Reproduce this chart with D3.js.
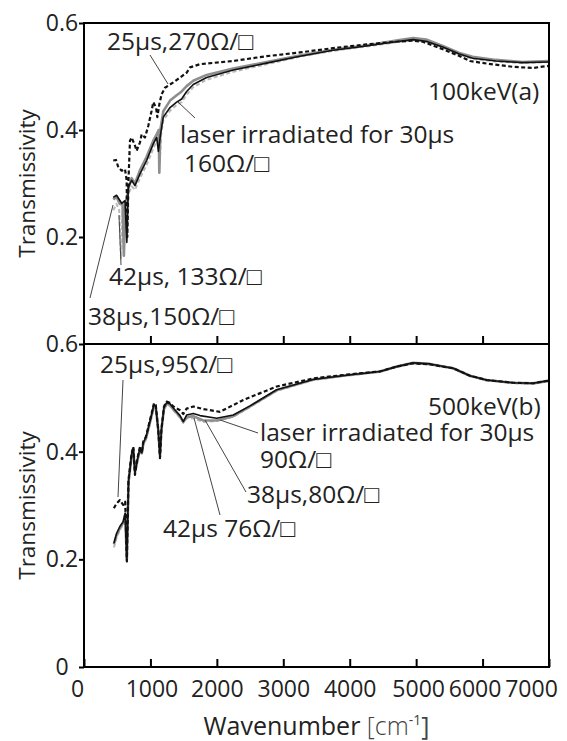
<!DOCTYPE html>
<html>
<head>
<meta charset="utf-8">
<script src="https://cdn.jsdelivr.net/npm/d3@7"></script>
<style>
  body { margin: 0; background: #fff; }
  text { font-family: "Open Sans", sans-serif; fill: #222; }
</style>
</head>
<body>
<svg id="chart" width="567" height="741"></svg>
<script>
// wavenumber [cm-1], transmissivity pairs
var top25 = [[440,0.343],[482,0.344],[517,0.330],[567,0.324],[617,0.327],[642,0.306],[652,0.20],[668,0.30],[692,0.38],[717,0.386],[767,0.371],[792,0.361],[843,0.377],[868,0.392],[918,0.386],[968,0.408],[1018,0.436],[1043,0.452],[1084,0.442],[1104,0.424],[1134,0.448],[1169,0.467],[1219,0.479],[1269,0.483],[1344,0.489],[1445,0.498],[1545,0.507],[1595,0.517],[1746,0.523],[2243,0.529],[2750,0.538],[3251,0.545],[3750,0.553],[4250,0.560],[4700,0.565],[4955,0.567],[5100,0.565],[5360,0.553],[5620,0.540],[5810,0.529],[6070,0.524],[6460,0.518],[6760,0.516],[7000,0.520]];
var top30 = [[440,0.274],[490,0.278],[567,0.263],[617,0.268],[645,0.19],[667,0.293],[717,0.306],[767,0.296],[843,0.318],[943,0.343],[1043,0.374],[1094,0.386],[1120,0.36],[1150,0.39],[1194,0.424],[1295,0.442],[1395,0.452],[1470,0.458],[1545,0.472],[1645,0.485],[1846,0.498],[2247,0.512],[2750,0.525],[3250,0.538],[3750,0.549],[4250,0.557],[4700,0.565],[4955,0.569],[5150,0.566],[5400,0.555],[5650,0.542],[5850,0.534],[6200,0.529],[6600,0.526],[7000,0.527]];
var top38 = [[440,0.270],[490,0.275],[540,0.262],[580,0.262],[600,0.165],[625,0.26],[667,0.29],[717,0.31],[767,0.30],[843,0.325],[943,0.35],[1043,0.38],[1094,0.392],[1125,0.40],[1134,0.32],[1150,0.40],[1194,0.435],[1295,0.455],[1395,0.465],[1470,0.472],[1545,0.482],[1645,0.492],[1846,0.503],[2247,0.515],[2750,0.527],[3250,0.539],[3750,0.550],[4250,0.558],[4700,0.567],[4955,0.572],[5150,0.569],[5400,0.557],[5650,0.544],[5850,0.537],[6200,0.531],[6600,0.527],[7000,0.529]];
var top42 = [[440,0.250],[490,0.262],[530,0.250],[557,0.16],[580,0.25],[617,0.255],[645,0.20],[667,0.28],[717,0.295],[767,0.288],[843,0.31],[943,0.335],[1043,0.365],[1094,0.38],[1125,0.39],[1140,0.34],[1160,0.39],[1194,0.418],[1295,0.436],[1395,0.447],[1470,0.452],[1545,0.466],[1645,0.48],[1846,0.494],[2247,0.509],[2750,0.523],[3250,0.537],[3750,0.548],[4250,0.556],[4700,0.564],[4955,0.568],[5150,0.565],[5400,0.554],[5650,0.541],[5850,0.533],[6200,0.528],[6600,0.525],[7000,0.527]];

var bot25 = [[450,0.295],[490,0.304],[540,0.310],[590,0.301],[620,0.307],[645,0.196],[670,0.347],[717,0.397],[742,0.409],[767,0.357],[800,0.385],[843,0.409],[870,0.397],[893,0.419],[933,0.428],[968,0.446],[1018,0.471],[1054,0.490],[1080,0.487],[1118,0.44],[1144,0.388],[1165,0.44],[1204,0.484],[1244,0.493],[1294,0.491],[1344,0.484],[1445,0.477],[1495,0.470],[1545,0.480],[1645,0.484],[1800,0.479],[2047,0.474],[2398,0.496],[2900,0.521],[3451,0.536],[3953,0.543],[4455,0.549],[4706,0.558],[4955,0.564],[5207,0.562],[5558,0.555],[5810,0.541],[6060,0.533],[6461,0.528],[6760,0.527],[7000,0.532]];
var bot30 = [[450,0.230],[490,0.248],[540,0.261],[590,0.270],[620,0.286],[645,0.196],[670,0.345],[717,0.395],[742,0.407],[767,0.36],[800,0.383],[843,0.407],[870,0.398],[893,0.417],[933,0.427],[968,0.444],[1018,0.469],[1054,0.488],[1080,0.485],[1118,0.44],[1144,0.39],[1165,0.44],[1204,0.482],[1244,0.491],[1294,0.489],[1344,0.481],[1445,0.467],[1495,0.456],[1545,0.468],[1645,0.471],[1746,0.467],[1997,0.462],[2247,0.468],[2500,0.485],[2900,0.515],[3451,0.534],[3953,0.542],[4455,0.549],[4706,0.558],[4955,0.565],[5207,0.563],[5558,0.555],[5810,0.541],[6060,0.533],[6461,0.528],[6760,0.527],[7000,0.532]];
var bot38 = [[450,0.228],[490,0.245],[540,0.258],[590,0.268],[620,0.283],[645,0.20],[670,0.343],[717,0.393],[742,0.405],[767,0.362],[800,0.381],[843,0.405],[870,0.397],[893,0.415],[933,0.425],[968,0.442],[1018,0.467],[1054,0.486],[1080,0.483],[1118,0.44],[1144,0.392],[1165,0.44],[1204,0.480],[1244,0.489],[1294,0.487],[1344,0.479],[1445,0.465],[1495,0.455],[1545,0.464],[1645,0.466],[1796,0.458],[1997,0.458],[2247,0.466],[2500,0.484],[2900,0.514],[3451,0.534],[3953,0.542],[4455,0.549],[4706,0.558],[4955,0.565],[5207,0.563],[5558,0.555],[5810,0.541],[6060,0.533],[6461,0.528],[6760,0.527],[7000,0.532]];
var bot42 = [[450,0.222],[490,0.240],[540,0.255],[590,0.265],[620,0.280],[645,0.205],[670,0.340],[717,0.390],[742,0.402],[767,0.364],[800,0.380],[843,0.403],[870,0.396],[893,0.413],[933,0.423],[968,0.440],[1018,0.465],[1054,0.484],[1080,0.481],[1118,0.44],[1144,0.395],[1165,0.44],[1204,0.478],[1244,0.487],[1294,0.485],[1344,0.477],[1445,0.463],[1495,0.454],[1545,0.462],[1645,0.462],[1796,0.455],[1997,0.457],[2247,0.465],[2500,0.483],[2900,0.513],[3451,0.533],[3953,0.541],[4455,0.548],[4706,0.557],[4955,0.564],[5207,0.562],[5558,0.554],[5810,0.540],[6060,0.532],[6461,0.527],[6760,0.526],[7000,0.531]];

var xTicks = [0, 1000, 2000, 3000, 4000, 5000, 6000, 7000];
var yTicksTop = [0.2, 0.4, 0.6];
var yTicksBot = [0, 0.2, 0.4, 0.6];

var svg = d3.select("#chart");
var left = 84, right = 549;

var x = d3.scaleLinear().domain([0, 7000]).range([left, right]);
var yTop = d3.scaleLinear().domain([0, 0.6]).range([344, 23]);
var yBot = d3.scaleLinear().domain([0, 0.6]).range([667, 344]);

var styles = [
  { stroke: "#b8b8b8", width: 2, dash: "4,2.5" },
  { stroke: "#8e8e8e", width: 2.6, dash: null },
  { stroke: "#111", width: 1.6, dash: null },
  { stroke: "#111", width: 2.2, dash: "4,2.5" }
];

// the x labels in the picture crowd together at the right end
var xLabelShift = { 0: -7, 1000: 1, 5000: 2, 6000: -8, 7000: -18 };

function drawPanel(y, series, yTicks, showX) {
  var line = d3.line()
    .x(function(d) { return x(d[0]); })
    .y(function(d) { return y(d[1]); });

  series.forEach(function(s, i) {
    svg.append("path")
      .datum(s)
      .attr("d", line)
      .attr("fill", "none")
      .attr("stroke", styles[i].stroke)
      .attr("stroke-width", styles[i].width)
      .attr("stroke-dasharray", styles[i].dash)
      .attr("stroke-linejoin", "round");
  });

  // y axis, ticks outward, labels centred
  var ya = svg.append("g")
    .attr("transform", "translate(" + left + ",0)")
    .call(d3.axisLeft(y).tickValues(yTicks).tickSize(5)
      .tickFormat(function(d) { return d === 0 ? "0" : d3.format(".1f")(d); }));
  ya.select(".domain").remove();
  ya.selectAll(".tick line").attr("stroke", "#000").attr("stroke-width", 2);
  ya.selectAll(".tick text")
    .attr("x", -22).attr("text-anchor", "middle")
    .style("font-size", "23px").attr("fill", "#222");

  // bottom ticks pointing inward
  var xa = svg.append("g")
    .attr("transform", "translate(0," + y.range()[0] + ")")
    .call(d3.axisBottom(x).tickValues(showX ? xTicks : xTicks.slice(1, 7))
      .tickSizeInner(-8).tickSizeOuter(0).tickPadding(14)
      .tickFormat(showX ? d3.format("d") : ""));
  xa.select(".domain").remove();
  xa.selectAll(".tick line").attr("stroke", "#000").attr("stroke-width", 2);
  xa.selectAll(".tick text")
    .attr("dx", function(d) { return xLabelShift[d] || 0; })
    .style("font-size", "23px").attr("fill", "#222");

  svg.append("rect")
    .attr("x", left).attr("y", y.range()[1])
    .attr("width", right - left).attr("height", y.range()[0] - y.range()[1])
    .attr("fill", "none").attr("stroke", "#000").attr("stroke-width", 2);

  svg.append("text")
    .attr("transform", "translate(27," + (y.range()[0] + y.range()[1]) / 2 + ") rotate(-90)")
    .attr("text-anchor", "middle").attr("dy", "0.35em")
    .style("font-size", "22.5px")
    .text("Transmissivity");
}

drawPanel(yTop, [top42, top38, top30, top25], yTicksTop, false);
drawPanel(yBot, [bot42, bot38, bot30, bot25], yTicksBot, true);

// x axis title
var xt = svg.append("text")
  .attr("x", (left + right) / 2).attr("y", 735)
  .attr("text-anchor", "middle").style("font-size", "25px");
xt.append("tspan").text("Wavenumber ");
xt.append("tspan").attr("fill", "#444").style("font-weight", 300).text("[cm");
xt.append("tspan").attr("fill", "#444").style("font-size", "14px").attr("dy", -10).text("-1");
xt.append("tspan").attr("fill", "#444").attr("dy", 10).text("]");

// annotations
var notes = [
  { t: "25\u03bcs,270\u03a9/\u25a1", x: 107, y: 50 },
  { t: "laser irradiated for 30\u03bcs", x: 180, y: 143 },
  { t: "160\u03a9/\u25a1", x: 184, y: 172 },
  { t: "100keV(a)", x: 428, y: 100 },
  { t: "42\u03bcs, 133\u03a9/\u25a1", x: 109, y: 285 },
  { t: "38\u03bcs,150\u03a9/\u25a1", x: 88, y: 325 },
  { t: "25\u03bcs,95\u03a9/\u25a1", x: 100, y: 373 },
  { t: "500keV(b)", x: 428, y: 415 },
  { t: "laser irradiated for 30\u03bcs", x: 260, y: 441 },
  { t: "90\u03a9/\u25a1", x: 260, y: 468 },
  { t: "38\u03bcs,80\u03a9/\u25a1", x: 247, y: 503 },
  { t: "42\u03bcs 76\u03a9/\u25a1", x: 163, y: 537 }
];
svg.selectAll(".note").data(notes).enter().append("text")
  .attr("class", "note")
  .attr("x", function(d) { return d.x; })
  .attr("y", function(d) { return d.y; })
  .style("font-size", "24.5px")
  .text(function(d) { return d.t; });

var leaders = [
  [150, 55, 168, 84],
  [195, 118, 178, 102],
  [121, 265, 119, 215],
  [90, 298, 113, 205],
  [123, 380, 118, 497],
  [258, 433, 220, 420],
  [246, 492, 205, 420],
  [220, 515, 194, 418]
];
svg.selectAll(".leader").data(leaders).enter().append("line")
  .attr("class", "leader")
  .attr("x1", function(d) { return d[0]; }).attr("y1", function(d) { return d[1]; })
  .attr("x2", function(d) { return d[2]; }).attr("y2", function(d) { return d[3]; })
  .attr("stroke", "#444").attr("stroke-width", 1);
</script>
</body>
</html>
